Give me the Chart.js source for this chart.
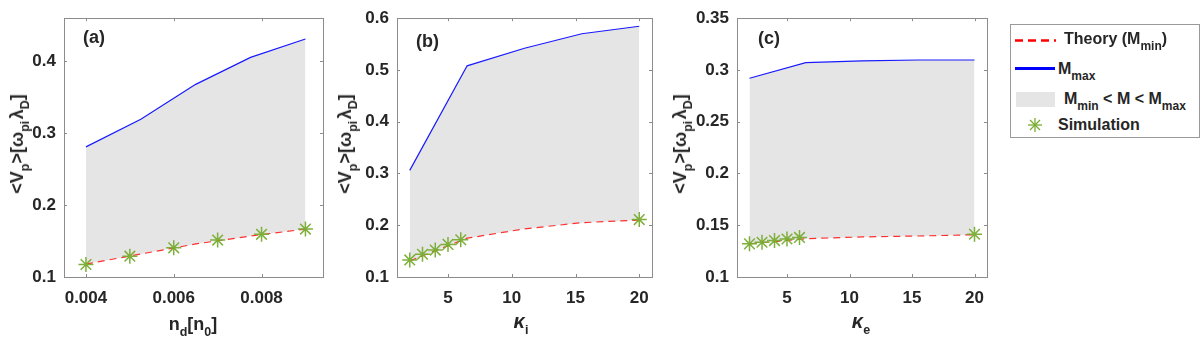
<!DOCTYPE html>
<html><head><meta charset="utf-8">
<script src="https://cdn.jsdelivr.net/npm/chart.js@4.4.0/dist/chart.umd.min.js"></script>
<style>
body{margin:0;width:1200px;height:340px;background:#fff;position:relative;overflow:hidden;font-family:"Liberation Sans",Arial,sans-serif;font-weight:bold;color:#262626}
canvas{position:absolute;top:0}
.lbl{position:absolute;white-space:nowrap;font-size:18px;line-height:18px}
.sb{font-size:12.5px;position:relative;top:6px}
.yt{transform:translate(-50%,-50%) rotate(-90deg)}
.xt{transform:translate(-50%,-50%)}
.k{font-style:italic;font-size:20px}
#legend{position:absolute;left:1010px;top:24px;width:188px;height:112px;border:1px solid #9a9a9a;background:#fff}
#legend .lt{position:absolute;white-space:nowrap;font-size:16px;line-height:16px;transform:translateY(-50%)}
#legend .sb{font-size:12px;top:6px}
#legend svg{position:absolute;left:0;top:0}
</style></head>
<body>
<canvas id="ca" width="340" height="340" style="left:0"></canvas>
<canvas id="cb" width="330" height="340" style="left:340px"></canvas>
<canvas id="cc" width="335" height="340" style="left:670px"></canvas>

<div class="lbl" style="left:83px;top:28px">(a)</div>
<div class="lbl" style="left:416px;top:32px">(b)</div>
<div class="lbl" style="left:758px;top:29px">(c)</div>

<div class="lbl yt" style="left:18px;top:144px">&lt;V<span class="sb">p</span>&gt;[ω<span class="sb">pi</span>&#8202;λ<span class="sb">D</span>]</div>
<div class="lbl yt" style="left:346px;top:144px">&lt;V<span class="sb">p</span>&gt;[ω<span class="sb">pi</span>&#8202;λ<span class="sb">D</span>]</div>
<div class="lbl yt" style="left:681px;top:144px">&lt;V<span class="sb">p</span>&gt;[ω<span class="sb">pi</span>&#8202;λ<span class="sb">D</span>]</div>

<div class="lbl xt" style="left:193px;top:325px">n<span class="sb">d</span>[n<span class="sb">0</span>]</div>
<div class="lbl xt" style="left:521px;top:322px"><span class="k">κ</span><span class="sb">i</span></div>
<div class="lbl xt" style="left:861px;top:322px"><span class="k">κ</span><span class="sb">e</span></div>

<div id="legend">
<svg width="188" height="112">
<line x1="4" y1="15.5" x2="45" y2="15.5" stroke="#ff0000" stroke-width="2.5" stroke-dasharray="8 5"/>
<line x1="4" y1="43.5" x2="44" y2="43.5" stroke="#0000ff" stroke-width="3"/>
<rect x="5" y="67" width="39" height="15" fill="#e5e5e5"/>
<g stroke="#77ac30" stroke-width="1.3">
<line x1="24" y1="93" x2="24" y2="107"/><line x1="17" y1="100" x2="31" y2="100"/>
<line x1="19" y1="95" x2="29" y2="105"/><line x1="19" y1="105" x2="29" y2="95"/>
</g>
</svg>
<div class="lt" style="left:53px;top:14px">Theory (M<span class="sb">min</span>)</div>
<div class="lt" style="left:47px;top:44px">M<span class="sb">max</span></div>
<div class="lt" style="left:53px;top:74px">M<span class="sb">min</span> &lt; M &lt; M<span class="sb">max</span></div>
<div class="lt" style="left:47px;top:100px">Simulation</div>
</div>

<script>
// ---- Panel (a): n_d ----
const aSimX = [0.004, 0.005, 0.006, 0.007, 0.008, 0.009];
const aSim  = [0.1174, 0.129, 0.1406, 0.1514, 0.1594, 0.1667];
const aThX  = [0.004, 0.00525, 0.0065, 0.00775, 0.009];
const aMin  = [0.1180, 0.132, 0.146, 0.157, 0.1667];
const aMax  = [0.281, 0.3195, 0.368, 0.4055, 0.431];
const aXTicks = [0.004, 0.006, 0.008];
const aXTickLabels = ['0.004', '0.006', '0.008'];
const aYTicks = [0.1, 0.2, 0.3, 0.4];
const aYTickLabels = ['0.1', '0.2', '0.3', '0.4'];

// ---- Panel (b): kappa_i ----
const bSimX = [2, 3, 4, 5, 6, 20];
const bSim  = [0.133, 0.144, 0.152, 0.163, 0.172, 0.211];
const bThX  = [2, 6.5, 11, 15.5, 20];
const bMin  = [0.131, 0.175, 0.193, 0.205, 0.210];
const bMax  = [0.306, 0.508, 0.542, 0.570, 0.5845];
const bXTicks = [5, 10, 15, 20];
const bXTickLabels = ['5', '10', '15', '20'];
const bYTicks = [0.1, 0.2, 0.3, 0.4, 0.5, 0.6];
const bYTickLabels = ['0.1', '0.2', '0.3', '0.4', '0.5', '0.6'];

// ---- Panel (c): kappa_e ----
const cSimX = [2, 3, 4, 5, 6, 20];
const cSim  = [0.132, 0.1336, 0.1352, 0.1367, 0.1382, 0.1413];
const cThX  = [2, 6.5, 11, 15.5, 20];
const cMin  = [0.132, 0.137, 0.1387, 0.1396, 0.1408];
const cMax  = [0.292, 0.307, 0.3087, 0.3096, 0.3096];
const cXTicks = [5, 10, 15, 20];
const cXTickLabels = ['5', '10', '15', '20'];
const cYTicks = [0.1, 0.15, 0.2, 0.25, 0.3, 0.35];
const cYTickLabels = ['0.1', '0.15', '0.2', '0.25', '0.3', '0.35'];

Chart.defaults.font.family = '"Liberation Sans", Arial, sans-serif';
Chart.defaults.font.size = 17;
Chart.defaults.font.weight = 'bold';
Chart.defaults.color = '#262626';

const boxPlugin = {
  id: 'matlabBox',
  afterDraw(chart) {
    const {ctx, chartArea: a, scales: {x, y}} = chart;
    ctx.save();
    ctx.strokeStyle = '#8c8c8c';
    ctx.lineWidth = 1;
    ctx.strokeRect(Math.round(a.left) + 0.5, Math.round(a.top) + 0.5,
                   Math.round(a.right - a.left), Math.round(a.bottom - a.top));
    ctx.beginPath();
    const L = 3;
    x.ticks.forEach(t => {
      const p = Math.round(x.getPixelForValue(t.value)) + 0.5;
      ctx.moveTo(p, a.bottom); ctx.lineTo(p, a.bottom - L);
      ctx.moveTo(p, a.top); ctx.lineTo(p, a.top + L);
    });
    y.ticks.forEach(t => {
      const p = Math.round(y.getPixelForValue(t.value)) + 0.5;
      ctx.moveTo(a.left, p); ctx.lineTo(a.left + L, p);
      ctx.moveTo(a.right, p); ctx.lineTo(a.right - L, p);
    });
    ctx.stroke();
    ctx.restore();
  }
};

function pts(xs, ys) { return xs.map((v, i) => ({x: v, y: ys[i]})); }

function makePanel(id, p) {
  new Chart(document.getElementById(id), {
    type: 'line',
    data: {
      datasets: [
        { label: 'Simulation', data: pts(p.simX, p.sim), showLine: false,
          pointStyle: 'star', pointRadius: 7.5, pointBorderWidth: 1.5,
          borderColor: 'rgba(119,172,48,0.95)', backgroundColor: 'rgba(119,172,48,0.95)' },
        { label: 'Theory', data: pts(p.thX, p.min), borderColor: '#ff3030',
          borderWidth: 1.2, borderDash: [7, 5], pointRadius: 0, fill: false, tension: 0 },
        { label: 'Mmax', data: pts(p.thX, p.max), borderColor: '#1a1aff',
          borderWidth: 1.2, pointRadius: 0, fill: {target: 1}, backgroundColor: '#e5e5e5', tension: 0 }
      ]
    },
    options: {
      responsive: false, animation: false, devicePixelRatio: 1,
      layout: { padding: { top: 9, right: p.padRight, left: 0, bottom: 0 } },
      plugins: { legend: { display: false }, tooltip: { enabled: false } },
      scales: {
        x: { type: 'linear', min: p.xMin, max: p.xMax,
             grid: { display: false, drawTicks: false }, border: { display: false },
             afterBuildTicks: s => { s.ticks = p.xTicks.map(v => ({value: v})); },
             afterFit: s => { s.height = 63; },
             ticks: { padding: 11, autoSkip: false, maxRotation: 0,
                      callback: (v, i) => p.xTickLabels[i] } },
        y: { type: 'linear', min: p.yMin, max: p.yMax,
             grid: { display: false, drawTicks: false }, border: { display: false },
             afterBuildTicks: s => { s.ticks = p.yTicks.map(v => ({value: v})); },
             afterFit: s => { s.width = p.yWidth; },
             ticks: { padding: 8, autoSkip: false,
                      callback: (v, i) => p.yTickLabels[i] } }
      }
    },
    plugins: [boxPlugin]
  });
}

makePanel('ca', { simX: aSimX, sim: aSim, thX: aThX, min: aMin, max: aMax,
  xMin: 0.0035, xMax: 0.0094, yMin: 0.1, yMax: 0.46,
  xTicks: aXTicks, xTickLabels: aXTickLabels, yTicks: aYTicks, yTickLabels: aYTickLabels,
  yWidth: 64, padRight: 17 });
makePanel('cb', { simX: bSimX, sim: bSim, thX: bThX, min: bMin, max: bMax,
  xMin: 1, xMax: 21, yMin: 0.1, yMax: 0.6,
  xTicks: bXTicks, xTickLabels: bXTickLabels, yTicks: bYTicks, yTickLabels: bYTickLabels,
  yWidth: 57, padRight: 18 });
makePanel('cc', { simX: cSimX, sim: cSim, thX: cThX, min: cMin, max: cMax,
  xMin: 1, xMax: 21, yMin: 0.1, yMax: 0.35,
  xTicks: cXTicks, xTickLabels: cXTickLabels, yTicks: cYTicks, yTickLabels: cYTickLabels,
  yWidth: 67, padRight: 18 });
</script>
</body></html>
